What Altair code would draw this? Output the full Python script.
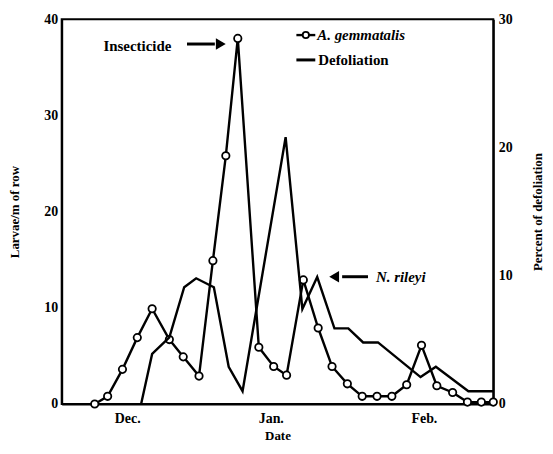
import altair as alt
import pandas as pd

# ---- data (x = days after 1 Dec) ----
larvae_day = [-6.8, -4.1, -1.0, 2.1, 5.2, 8.8, 11.7, 15.0, 17.9, 20.6, 23.1, 27.5,
              30.6, 33.3, 36.8, 39.9, 42.8, 46.0, 49.1, 52.2, 55.3, 58.4, 61.5,
              64.7, 68.0, 71.1, 74.0, 76.5]
larvae_val = [0, 0.8, 3.6, 6.9, 9.9, 6.7, 4.9, 2.9, 14.9, 25.8, 38.0, 5.9,
              3.9, 3.0, 12.9, 7.9, 3.9, 2.1, 0.8, 0.8, 0.8, 2.0, 6.1,
              1.9, 1.2, 0.2, 0.2, 0.2]
defol_day = [2.9, 5.2, 8.8, 11.9, 14.4, 18.1, 21.2, 24.1, 33.1, 36.6, 39.7,
             43.3, 46.2, 49.3, 52.4, 61.3, 64.5, 71.3, 76.5]
defol_val = [0, 3.9, 5.2, 9.1, 9.8, 9.1, 2.9, 1.0, 20.8, 7.4, 9.9,
             5.9, 5.9, 4.8, 4.8, 2.1, 2.9, 1.0, 1.0]
month_ticks = [0, 30, 62]
month_labels = ["Dec.", "Jan.", "Feb."]
left_ticks = [0, 10, 20, 30, 40]
right_ticks = [0, 10, 20, 30]

FONT = "Liberation Serif"
W, H = 434, 387

label_expr = " : ".join(
    f"datum.value == {v} ? '{l}'" for v, l in zip(month_ticks, month_labels)
) + " : ''"

xscale = alt.Scale(domain=[-13.7, 76.5], nice=False, zero=False)
xaxis = alt.Axis(values=month_ticks, labelExpr=label_expr, title="Date",
                 labelPadding=8, titlePadding=4, labelFontSize=14, titleFontSize=13)

larvae_df = pd.DataFrame({"day": larvae_day, "larvae": larvae_val})
defol_df = pd.DataFrame({"day": defol_day, "defol": defol_val})

yleft = alt.Y("larvae:Q", scale=alt.Scale(domain=[0, 40], nice=False),
              axis=alt.Axis(values=left_ticks, title="Larvae/m of row", orient="left",
                            labelPadding=4, labelFontSize=14, titleFontSize=13,
                            titleX=-40, titleBaseline="bottom"))
x = alt.X("day:Q", scale=xscale, axis=xaxis)

lar_line = alt.Chart(larvae_df).mark_line(color="black", strokeWidth=2.4).encode(x=x, y=yleft)
lar_pts = alt.Chart(larvae_df).mark_point(shape="circle", filled=True, fill="white",
                                          stroke="black", strokeWidth=1.8, size=55,
                                          opacity=1).encode(x=x, y=yleft)

one = pd.DataFrame({"k": [0]})


def txt(s, px, py, italic=False, size=15):
    return alt.Chart(one).mark_text(text=s, font=FONT, fontWeight="bold",
                                    fontStyle="italic" if italic else "normal",
                                    fontSize=size, align="left", baseline="middle",
                                    color="black").encode(x=alt.value(px), y=alt.value(py))


def hline(x1, x2, py, w=2.4):
    return alt.Chart(one).mark_rule(color="black", strokeWidth=w).encode(
        x=alt.value(x1), x2=alt.value(x2), y=alt.value(py))


def head(px, py, shape):
    return alt.Chart(one).mark_point(shape=shape, filled=True, color="black", size=130,
                                     opacity=1).encode(x=alt.value(px), y=alt.value(py))


annotations = [
    txt("Insecticide", 42, 27),
    hline(126, 154, 25, 3),
    head(160, 25, "triangle-right"),
    hline(236, 255, 16),
    alt.Chart(one).mark_point(shape="circle", filled=True, fill="white", stroke="black",
                              strokeWidth=1.8, size=40, opacity=1).encode(
        x=alt.value(245.5), y=alt.value(16)),
    txt("A. gemmatalis", 257, 16, italic=True),
    hline(236, 255, 41, 3),
    txt("Defoliation", 258, 41),
    txt("N. rileyi", 316, 259, italic=True),
    hline(282, 308, 259, 3),
    head(274, 259, "triangle-left"),
]

left = alt.layer(lar_line, lar_pts, *annotations)

yright = alt.Y("defol:Q", scale=alt.Scale(domain=[0, 30], nice=False),
               axis=alt.Axis(values=right_ticks, title="Percent of defoliation", orient="right",
                             labelPadding=5, labelFontSize=14, titleFontSize=13,
                             titleAngle=270, titleX=51, titleBaseline="bottom"))
defol_line = alt.Chart(defol_df).mark_line(color="black", strokeWidth=2.4).encode(x=x, y=yright)

chart = alt.layer(left, defol_line).resolve_scale(y="independent").properties(
    width=W, height=H,
    autosize=alt.AutoSizeParams(type="none"),
    padding={"left": 54, "top": 10, "right": 52, "bottom": 41},
    background="white",
).configure_axis(
    labelFont=FONT, titleFont=FONT, labelFontWeight="bold", titleFontWeight="bold",
    labelColor="black", titleColor="black", domainColor="black", domainWidth=2,
    ticks=False, grid=False,
).configure_view(stroke="black", strokeWidth=2)

chart.save("out.html", embed_options={"renderer": "svg", "actions": False})
